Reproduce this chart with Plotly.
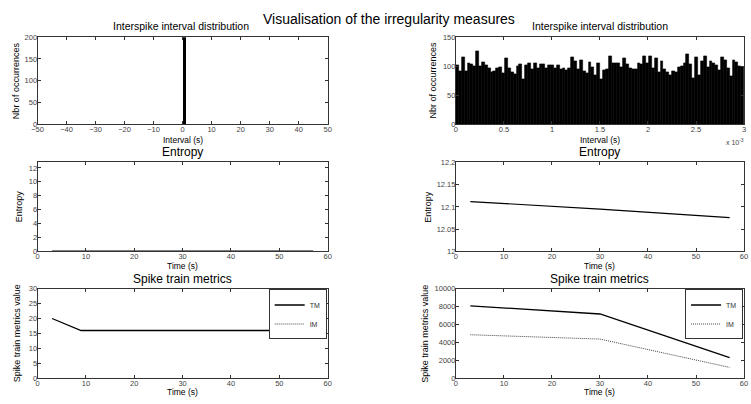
import numpy as np
import plotly.graph_objects as go

W, H = 751, 404

# ---------------- data ----------------
# left: regular spike train
isi_left_centers = [0.47]
isi_left_counts = [1000]
isi_left_width = 1.27

# right: irregular spike train, 100 bins between 0 and 3e-3 s
isi_right_counts = [
    102, 92, 116, 92, 105, 103, 100, 126, 100, 107,
    101, 96, 90, 92, 97, 99, 88, 114, 97, 90,
    87, 100, 103, 78, 102, 106, 95, 105, 96, 103,
    103, 97, 101, 102, 97, 101, 95, 96, 93, 97,
    116, 108, 95, 110, 92, 88, 107, 98, 85, 105,
    78, 93, 95, 117, 105, 106, 105, 98, 113, 103,
    96, 95, 95, 105, 104, 117, 105, 118, 96, 113,
    90, 108, 95, 90, 85, 92, 90, 98, 100, 106,
    120, 103, 80, 115, 85, 108, 117, 98, 108, 105,
    102, 93, 116, 110, 97, 83, 110, 107, 100, 98,
]
isi_right_max = 3e-3

time_left = [3, 9, 15, 21, 27, 33, 39, 45, 51, 57]
entropy_left = [0, 0, 0, 0, 0, 0, 0, 0, 0, 0]
tm_left = [20, 16, 16, 16, 16, 16, 16, 16, 16, 14]
im_left = [0, 0, 0, 0, 0, 0, 0, 0, 0, 0]

time_right = [3, 30, 57]
entropy_right = [12.112, 12.095, 12.076]
tm_right = [8080, 7170, 2320]
im_right = [4860, 4380, 1230]

x_ticks_left_top = [-50, -40, -30, -20, -10, 0, 10, 20, 30, 40, 50]
y_ticks_left_top = [0, 50, 100, 150, 200]
x_ticks_right_top = [0, 0.5, 1, 1.5, 2, 2.5, 3]
x_ticklabels_right_top = ["0", "0.5", "1", "1.5", "2", "2.5", "3"]
y_ticks_right_top = [0, 50, 100, 150]
time_ticks = [0, 10, 20, 30, 40, 50, 60]
y_ticks_ent_left = [0, 2, 4, 6, 8, 10, 12]
y_ticks_ent_right = [12, 12.05, 12.1, 12.15, 12.2]
y_ticklabels_ent_right = ["12", "12.05", "12.1", "12.15", "12.2"]
y_ticks_stm_left = [0, 5, 10, 15, 20, 25, 30]
y_ticks_stm_right = [0, 2000, 4000, 6000, 8000, 10000]
y_ticklabels_stm_right = ["0", "2000", "4000", "6000", "8000", "10000"]

# ---------------- layout helpers ----------------
FONT = "Liberation Sans, Arial, sans-serif"

def px_x(p):
    return p / W

def px_y(p):
    return 1 - p / H

cols = {"L": (32, 326), "R": (456, 748)}
rows = {"T": (34, 123), "M": (162, 253), "B": (291, 383)}

fig = go.Figure()

n_r = len(isi_right_counts)
bw = isi_right_max / n_r
isi_right_centers = (np.arange(n_r) + 0.5) * bw

fig.add_trace(go.Bar(x=isi_left_centers, y=isi_left_counts, width=isi_left_width,
                     marker=dict(color="black", line=dict(width=0)),
                     xaxis="x", yaxis="y", showlegend=False))
fig.add_trace(go.Bar(x=isi_right_centers, y=isi_right_counts, width=bw,
                     marker=dict(color="black", line=dict(color="black", width=0.6)),
                     xaxis="x2", yaxis="y2", showlegend=False))

fig.add_trace(go.Scatter(x=time_left, y=entropy_left, mode="lines",
                         line=dict(color="black", width=1.6),
                         xaxis="x3", yaxis="y3", showlegend=False))
fig.add_trace(go.Scatter(x=time_right, y=entropy_right, mode="lines",
                         line=dict(color="black", width=1.2),
                         xaxis="x4", yaxis="y4", showlegend=False))

DOT = "1px,1px"
fig.add_trace(go.Scatter(x=time_left, y=tm_left, mode="lines", name="TM",
                         line=dict(color="black", width=1.3),
                         xaxis="x5", yaxis="y5", legend="legend"))
fig.add_trace(go.Scatter(x=time_left, y=im_left, mode="lines", name="IM",
                         line=dict(color="#444", width=1, dash=DOT),
                         xaxis="x5", yaxis="y5", legend="legend"))
fig.add_trace(go.Scatter(x=time_right, y=tm_right, mode="lines", name="TM",
                         line=dict(color="black", width=1.3),
                         xaxis="x6", yaxis="y6", legend="legend2"))
fig.add_trace(go.Scatter(x=time_right, y=im_right, mode="lines", name="IM",
                         line=dict(color="#444", width=1, dash=DOT),
                         xaxis="x6", yaxis="y6", legend="legend2"))

def axis(domain_px, rng, tickvals, ticktext=None, is_y=False, anchor=None):
    if is_y:
        dom = [px_y(domain_px[1]), px_y(domain_px[0])]
    else:
        dom = [px_x(domain_px[0]), px_x(domain_px[1])]
    d = dict(domain=dom, range=rng, tickvals=tickvals, showgrid=False, zeroline=False,
             showline=True, mirror="ticks", linecolor="#333", linewidth=1,
             ticks="inside", ticklen=3, tickcolor="#333", tickwidth=1,
             tickfont=dict(family=FONT, size=7.5, color="#444"), anchor=anchor,
             ticklabelstandoff=-2, fixedrange=True)
    if ticktext is not None:
        d["ticktext"] = ticktext
    return d

layout = dict(
    width=W, height=H, margin=dict(l=0, r=0, t=0, b=0),
    paper_bgcolor="white", plot_bgcolor="white",
    bargap=0, barmode="overlay",
    font=dict(family=FONT, color="black"),
)

layout["xaxis"] = axis(cols["L"], [-50, 50], x_ticks_left_top, anchor="y")
layout["yaxis"] = axis(rows["T"], [0, 200], y_ticks_left_top, is_y=True, anchor="x")
layout["xaxis2"] = axis(cols["R"], [0, isi_right_max], [v * 1e-3 for v in x_ticks_right_top],
                        x_ticklabels_right_top, anchor="y2")
layout["yaxis2"] = axis(rows["T"], [0, 150], y_ticks_right_top, is_y=True, anchor="x2")
layout["xaxis3"] = axis(cols["L"], [0, 60], time_ticks, anchor="y3")
layout["yaxis3"] = axis(rows["M"], [0, 12.8], y_ticks_ent_left, is_y=True, anchor="x3")
layout["xaxis4"] = axis(cols["R"], [0, 60], time_ticks, anchor="y4")
layout["yaxis4"] = axis(rows["M"], [12, 12.2], y_ticks_ent_right, y_ticklabels_ent_right,
                        is_y=True, anchor="x4")
layout["xaxis5"] = axis(cols["L"], [0, 60], time_ticks, anchor="y5")
layout["yaxis5"] = axis(rows["B"], [0, 30], y_ticks_stm_left, is_y=True, anchor="x5")
layout["xaxis6"] = axis(cols["R"], [0, 60], time_ticks, anchor="y6")
layout["yaxis6"] = axis(rows["B"], [0, 10000], y_ticks_stm_right, y_ticklabels_stm_right,
                        is_y=True, anchor="x6")

def legend_at(xr_px, yt_px):
    return dict(x=px_x(xr_px), y=px_y(yt_px), xanchor="right", yanchor="top",
                bgcolor="white", bordercolor="#333", borderwidth=1,
                font=dict(family=FONT, size=7, color="#333"), tracegroupgap=0,
                itemwidth=30, title=dict(text=""))

layout["legend"] = legend_at(325, 292)
layout["legend2"] = legend_at(747, 292)

ann = []

def text(x, y, s, size, angle=0, color="black", xanchor="center"):
    ann.append(dict(x=px_x(x), y=px_y(y), xref="paper", yref="paper", text=s,
                    showarrow=False, textangle=angle, xanchor=xanchor, yanchor="middle",
                    font=dict(family=FONT, size=size, color=color)))

text(388, 15, "Visualisation of the irregularity measures", 14)
text(177, 22, "Interspike interval distribution", 10.5)
text(602, 22, "Interspike interval distribution", 10.5)
text(179, 151, "Entropy", 12)
text(602, 151, "Entropy", 12)
text(179, 281, "Spike train metrics", 12)
text(602, 281, "Spike train metrics", 12)

text(179, 139, "Interval (s)", 8.5)
text(602, 139, "Interval (s)", 8.5)
text(179, 268, "Time (s)", 8.5)
text(602, 268, "Time (s)", 8.5)
text(179, 397, "Time (s)", 8.5)
text(602, 397, "Time (s)", 8.5)

text(10, 78, "Nbr of occurrences", 9, -90)
text(433, 78, "Nbr of occurrences", 9, -90)
text(14, 207, "Entropy", 9, -90)
text(428, 207, "Entropy", 9, -90)
text(12, 337, "Spike train metrics value", 9, -90)
text(425, 337, "Spike train metrics value", 9, -90)

text(750, 141, "x 10<sup>-3</sup>", 7, color="#444", xanchor="right")

layout["annotations"] = ann
fig.update_layout(**layout)

fig.write_html("out.html")
